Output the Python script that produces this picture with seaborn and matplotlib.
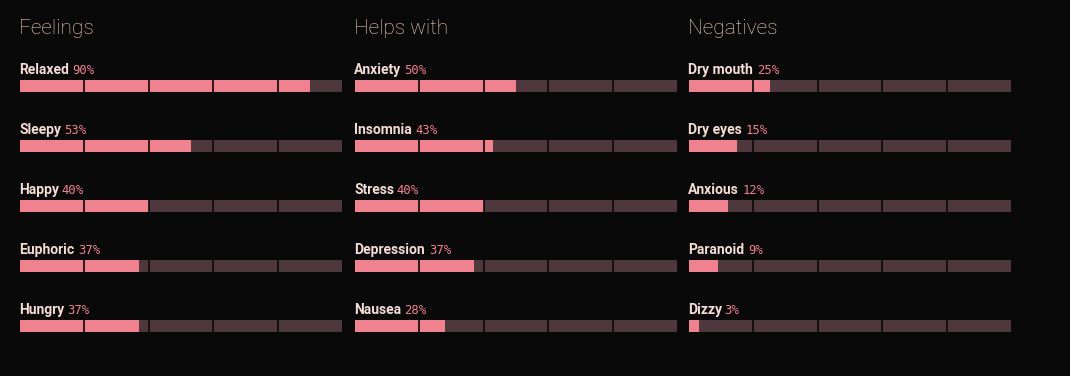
import matplotlib
matplotlib.use("Agg")
import matplotlib.pyplot as plt
import seaborn as sns
import pandas as pd

sns.set_theme(style="dark")
plt.rcParams['font.family'] = ['Roboto', 'DejaVu Sans']

titles = ["Feelings", "Helps with", "Negatives"]
feelings = ["Relaxed", "Sleepy", "Happy", "Euphoric", "Hungry"]
feelings_pct = [90, 53, 40, 37, 37]
helps = ["Anxiety", "Insomnia", "Stress", "Depression", "Nausea"]
helps_pct = [50, 43, 40, 37, 28]
negatives = ["Dry mouth", "Dry eyes", "Anxious", "Paranoid", "Dizzy"]
negatives_pct = [25, 15, 12, 9, 3]

groups = [(feelings, feelings_pct), (helps, helps_pct), (negatives, negatives_pct)]

BG = "#0a0909"
PINK = "#f0828f"
DARK = "#4e383d"
NAME_C = "#f5dcd6"
TITLE_C = "#f9d3c2"

W, H = 1070, 376
fig = plt.figure(figsize=(W / 100, H / 100), dpi=100, facecolor=BG)

lefts = [20, 355, 689]
bar_w = 322
top_pix, bot_pix = 50, 350

for (cats, vals), title, lx in zip(groups, titles, lefts):
    ax = fig.add_axes([lx / W, 1 - bot_pix / H, bar_w / W, (bot_pix - top_pix) / H])
    ax.set_facecolor(BG)
    df = pd.DataFrame({"cat": cats, "pct": vals, "full": [100] * len(cats)})
    sns.barplot(data=df, y="cat", x="full", orient="h", color=DARK, width=0.2,
                saturation=1, ax=ax, linewidth=0)
    sns.barplot(data=df, y="cat", x="pct", orient="h", color=PINK, width=0.2,
                saturation=1, ax=ax, linewidth=0)
    for i in range(len(cats)):
        ax.vlines([20, 40, 60, 80], i - 0.1, i + 0.1, color=BG, linewidth=1.2)
        ax.text(-0.2, i - 0.27, cats[i], color=NAME_C, fontsize=10, fontweight="bold",
                va="center", ha="left")
    fig.canvas.draw()
    r = fig.canvas.get_renderer()
    inv = ax.transData.inverted()
    for t, v in zip(list(ax.texts), vals):
        bb = t.get_window_extent(renderer=r)
        x_end = inv.transform((bb.x1 + 0.5, 0))[0]
        ax.text(x_end, t.get_position()[1] + 0.01, f"{v}%", color=PINK, fontsize=8.8,
                family="DejaVu Sans Mono", va="center", ha="left")
    ax.set_xlim(0, 100)
    ax.set_ylim(4.4, -0.6)
    ax.set_axis_off()
    fig.text(lx / W - 0.001, 1 - 28 / H, title, color=TITLE_C, fontsize=15,
             fontweight="light", va="center", ha="left")

fig.savefig("out.png", dpi=100, facecolor=BG)
